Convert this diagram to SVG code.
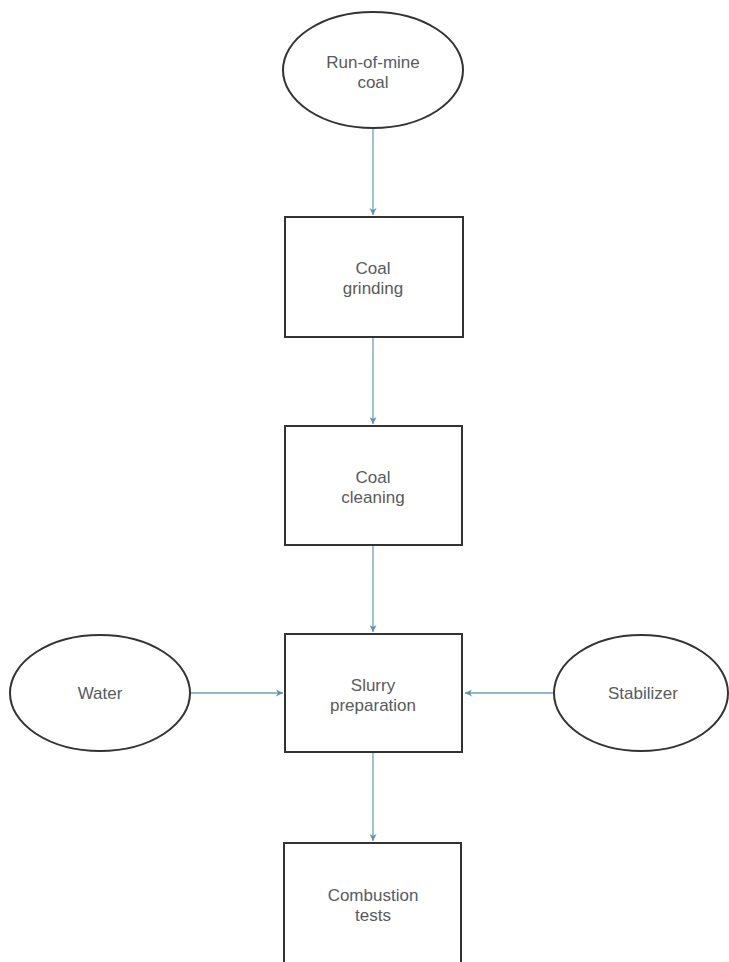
<svg xmlns="http://www.w3.org/2000/svg" width="729" height="962" viewBox="0 0 729 962">
<defs>
<marker id="ah" markerWidth="8" markerHeight="8" refX="7" refY="4" orient="auto" markerUnits="userSpaceOnUse">
<path d="M0,0.5 L7,4 L0,7.5 L2,4 Z" fill="#5f93aa"/>
</marker>
<style>
.n{fill:#fff;stroke:#333;stroke-width:2}
.t{font-family:"Liberation Sans",Arial,sans-serif;font-size:17px;fill:#5a5a5a;text-anchor:middle}
.c{stroke:#6e9fb3;stroke-width:1.3;fill:none;marker-end:url(#ah)}
</style>
</defs>
<rect width="729" height="962" fill="#fff"/>
<g id="connectors">
<line class="c" x1="373" y1="128" x2="373" y2="215"/>
<line class="c" x1="373" y1="337" x2="373" y2="424"/>
<line class="c" x1="373" y1="545" x2="373" y2="632"/>
<line class="c" x1="191" y1="693" x2="283" y2="693"/>
<line class="c" x1="554" y1="693" x2="465" y2="693"/>
<line class="c" x1="373" y1="753" x2="373" y2="841"/>
</g>
<g id="runofmine">
<ellipse class="n" cx="373" cy="70" rx="90" ry="58"/>
<text class="t" x="373" y="68">Run-of-mine</text>
<text class="t" x="373" y="88">coal</text>
</g>
<g id="grinding">
<rect class="n" x="285" y="217" width="178" height="120"/>
<text class="t" x="373" y="274">Coal</text>
<text class="t" x="373" y="294">grinding</text>
</g>
<g id="cleaning">
<rect class="n" x="285" y="426" width="177" height="119"/>
<text class="t" x="373" y="483">Coal</text>
<text class="t" x="373" y="503">cleaning</text>
</g>
<g id="slurry">
<rect class="n" x="285" y="634" width="177" height="118"/>
<text class="t" x="373" y="691">Slurry</text>
<text class="t" x="373" y="711">preparation</text>
</g>
<g id="water">
<ellipse class="n" cx="100" cy="693" rx="90" ry="58"/>
<text class="t" x="100" y="699">Water</text>
</g>
<g id="stabilizer">
<ellipse class="n" cx="641" cy="693" rx="87" ry="58"/>
<text class="t" x="643" y="699">Stabilizer</text>
</g>
<g id="combustion">
<rect class="n" x="284" y="843" width="177" height="130"/>
<text class="t" x="373" y="901">Combustion</text>
<text class="t" x="373" y="921">tests</text>
</g>
</svg>
